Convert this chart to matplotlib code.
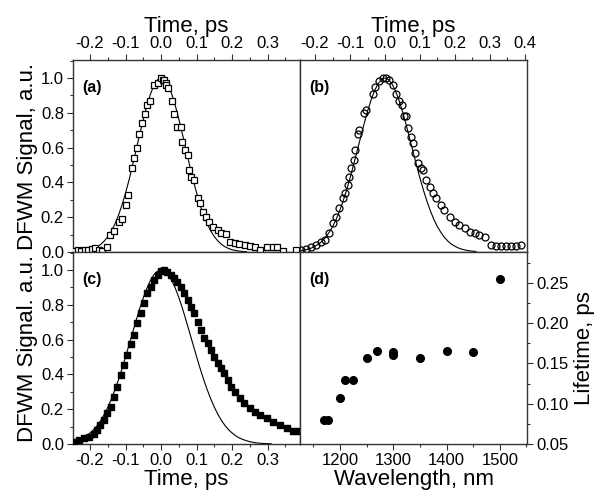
import matplotlib
matplotlib.use("Agg")
import matplotlib.pyplot as plt
from matplotlib.ticker import MultipleLocator, FormatStrFormatter

plt.rcParams['font.family'] = ['Liberation Sans', 'DejaVu Sans']

# ---------------- data ----------------
# panel (a): open squares
ta = [-0.245, -0.235, -0.225, -0.215, -0.205, -0.195, -0.185, -0.175, -0.165, -0.152, -0.143, -0.133,
      -0.119, -0.110, -0.100, -0.093, -0.083, -0.076, -0.067, -0.062, -0.055, -0.045, -0.039, -0.032,
      -0.020, -0.010, 0.000, 0.004, 0.007, 0.013, 0.015, 0.020, 0.030, 0.037, 0.046, 0.056, 0.060,
      0.068, 0.075, 0.079, 0.084, 0.093, 0.103, 0.110, 0.117, 0.127, 0.136, 0.145, 0.160, 0.169,
      0.183, 0.193, 0.207, 0.220, 0.235, 0.249, 0.263, 0.278, 0.297, 0.315, 0.325, 0.344, 0.380]
ya = [0.008, 0.010, 0.008, 0.012, 0.010, 0.015, 0.022, 0.012, 0.008, 0.030, 0.098, 0.120,
      0.174, 0.190, 0.270, 0.330, 0.485, 0.540, 0.600, 0.680, 0.740, 0.790, 0.845, 0.870,
      0.960, 0.970, 1.000, 0.990, 0.990, 0.970, 0.960, 0.940, 0.870, 0.790, 0.720, 0.720, 0.634,
      0.586, 0.557, 0.470, 0.433, 0.414, 0.308, 0.280, 0.232, 0.203, 0.174, 0.145, 0.126, 0.107,
      0.103, 0.060, 0.054, 0.046, 0.040, 0.034, 0.027, 0.011, 0.027, 0.030, 0.027, 0.008, 0.012]

# panel (b): open circles
tb = [-0.240, -0.226, -0.211, -0.197, -0.183, -0.171, -0.159, -0.148, -0.140, -0.131, -0.121, -0.113,
      -0.107, -0.102, -0.097, -0.090, -0.085, -0.078, -0.073, -0.059, -0.054, -0.035, -0.028, -0.016,
      -0.007, 0.003, 0.012, 0.022, 0.031, 0.041, 0.050, 0.054, 0.060, 0.066, 0.073, 0.080, 0.085,
      0.094, 0.102, 0.109, 0.118, 0.128, 0.137, 0.147, 0.159, 0.170, 0.185, 0.199, 0.213, 0.228,
      0.242, 0.256, 0.270, 0.285, 0.304, 0.318, 0.333, 0.347, 0.361, 0.375, 0.388]
yb = [0.010, 0.020, 0.030, 0.040, 0.060, 0.070, 0.107, 0.165, 0.203, 0.250, 0.310, 0.340,
      0.385, 0.430, 0.480, 0.530, 0.586, 0.680, 0.700, 0.800, 0.815, 0.910, 0.950, 0.980,
      1.000, 1.000, 0.990, 0.960, 0.910, 0.870, 0.845, 0.780, 0.780, 0.710, 0.660, 0.625, 0.567,
      0.510, 0.480, 0.470, 0.414, 0.375, 0.337, 0.308, 0.270, 0.241, 0.203, 0.174, 0.155, 0.136,
      0.117, 0.107, 0.098, 0.084, 0.040, 0.036, 0.036, 0.036, 0.036, 0.036, 0.040]

# panel (c): filled squares
tc = [-0.246, -0.232, -0.218, -0.204, -0.190, -0.180, -0.171, -0.161, -0.152, -0.142, -0.133, -0.124,
      -0.114, -0.105, -0.095, -0.086, -0.076, -0.067, -0.057, -0.048, -0.039, -0.029, -0.020, -0.010,
      -0.001, 0.008, 0.018, 0.027, 0.037, 0.046, 0.056, 0.065, 0.075, 0.084, 0.093, 0.103, 0.112,
      0.122, 0.131, 0.141, 0.150, 0.159, 0.169, 0.178, 0.188, 0.197, 0.207, 0.221, 0.234, 0.249,
      0.263, 0.277, 0.297, 0.315, 0.334, 0.353, 0.372, 0.386]
yc = [0.013, 0.023, 0.033, 0.042, 0.057, 0.080, 0.109, 0.138, 0.176, 0.214, 0.272, 0.330,
      0.397, 0.454, 0.511, 0.575, 0.626, 0.693, 0.751, 0.808, 0.866, 0.904, 0.943, 0.971,
      0.994, 1.000, 0.990, 0.971, 0.952, 0.933, 0.904, 0.866, 0.828, 0.789, 0.751, 0.703, 0.655,
      0.607, 0.579, 0.540, 0.502, 0.464, 0.435, 0.406, 0.368, 0.330, 0.301, 0.263, 0.234, 0.205,
      0.186, 0.167, 0.148, 0.128, 0.109, 0.090, 0.076, 0.076]

# fit curves
fit_t_a = [-0.22, -0.21, -0.20, -0.19, -0.18, -0.17, -0.16, -0.15, -0.14, -0.13, -0.12, -0.11, -0.10,
           -0.09, -0.08, -0.07, -0.06, -0.05, -0.04, -0.03, -0.02, -0.01, 0.00, 0.01, 0.02, 0.03,
           0.04, 0.05, 0.06, 0.07, 0.08, 0.09, 0.10, 0.11, 0.12, 0.13, 0.14, 0.15, 0.16, 0.17, 0.18,
           0.19, 0.20, 0.21, 0.22, 0.23, 0.24]
fit_y_a = [0.005, 0.009, 0.013, 0.020, 0.030, 0.044, 0.063, 0.088, 0.120, 0.161, 0.211, 0.270, 0.339,
           0.416, 0.501, 0.589, 0.678, 0.763, 0.841, 0.907, 0.958, 0.989, 1.000, 0.989, 0.958, 0.907,
           0.841, 0.763, 0.678, 0.589, 0.501, 0.416, 0.339, 0.270, 0.211, 0.161, 0.120, 0.088, 0.063,
           0.044, 0.030, 0.020, 0.013, 0.009, 0.005, 0.003, 0.002]

fit_t_b = [-0.24, -0.23, -0.22, -0.21, -0.20, -0.19, -0.18, -0.17, -0.16, -0.15, -0.14, -0.13, -0.12,
           -0.11, -0.10, -0.09, -0.08, -0.07, -0.06, -0.05, -0.04, -0.03, -0.02, -0.01, 0.00, 0.01,
           0.02, 0.03, 0.04, 0.05, 0.06, 0.07, 0.08, 0.09, 0.10, 0.11, 0.12, 0.13, 0.14, 0.15, 0.16,
           0.17, 0.18, 0.19, 0.20, 0.21, 0.22, 0.23, 0.24, 0.25, 0.26]
fit_y_b = [0.007, 0.011, 0.016, 0.023, 0.033, 0.045, 0.062, 0.084, 0.112, 0.145, 0.186, 0.235, 0.291,
           0.355, 0.424, 0.500, 0.578, 0.657, 0.735, 0.807, 0.872, 0.926, 0.966, 0.991, 1.000, 0.991,
           0.966, 0.926, 0.872, 0.807, 0.735, 0.657, 0.578, 0.500, 0.424, 0.355, 0.291, 0.235, 0.186,
           0.145, 0.112, 0.084, 0.062, 0.045, 0.033, 0.023, 0.016, 0.011, 0.007, 0.005, 0.003]

fit_t_c = [-0.25, -0.24, -0.23, -0.22, -0.21, -0.20, -0.19, -0.18, -0.17, -0.16, -0.15, -0.14, -0.13,
           -0.12, -0.11, -0.10, -0.09, -0.08, -0.07, -0.06, -0.05, -0.04, -0.03, -0.02, -0.01, 0.00,
           0.01, 0.02, 0.03, 0.04, 0.05, 0.06, 0.07, 0.08, 0.09, 0.10, 0.11, 0.12, 0.13, 0.14, 0.15,
           0.16, 0.17, 0.18, 0.19, 0.20, 0.21, 0.22, 0.23, 0.24, 0.25, 0.26, 0.27, 0.28, 0.29, 0.30, 0.31]
fit_y_c = [0.013, 0.019, 0.026, 0.035, 0.047, 0.063, 0.082, 0.106, 0.135, 0.170, 0.211, 0.258, 0.311,
           0.369, 0.433, 0.501, 0.571, 0.642, 0.712, 0.780, 0.841, 0.895, 0.940, 0.973, 0.993, 1.000,
           0.993, 0.973, 0.940, 0.895, 0.841, 0.780, 0.712, 0.642, 0.571, 0.501, 0.433, 0.369, 0.311,
           0.258, 0.211, 0.170, 0.135, 0.106, 0.082, 0.063, 0.047, 0.035, 0.026, 0.019, 0.013, 0.009,
           0.006, 0.004, 0.003, 0.002, 0.001]

# panel (d): lifetime vs wavelength
wavelength = [1170, 1178, 1200, 1210, 1225, 1250, 1270, 1300, 1300, 1350, 1400, 1450, 1500]
lifetime = [0.080, 0.080, 0.107, 0.130, 0.130, 0.157, 0.165, 0.161, 0.164, 0.157, 0.165, 0.164, 0.255]

time_ticks_a = [-0.2, -0.1, 0.0, 0.1, 0.2, 0.3]
time_ticks_b = [-0.2, -0.1, 0.0, 0.1, 0.2, 0.3, 0.4]
signal_ticks = [0.0, 0.2, 0.4, 0.6, 0.8, 1.0]
wl_ticks = [1200, 1300, 1400, 1500]
life_ticks = [0.05, 0.10, 0.15, 0.20, 0.25]

# ---------------- figure ----------------
W, H = 597, 496
fig = plt.figure(figsize=(W / 100, H / 100), dpi=100)

def frac(x0, y0, x1, y1):
    return [x0 / W, 1 - y1 / H, (x1 - x0) / W, (y1 - y0) / H]

axa = fig.add_axes(frac(73, 60, 300, 252))
axb = fig.add_axes(frac(300, 60, 527, 252))
axc = fig.add_axes(frac(73, 252, 300, 444))
axd = fig.add_axes(frac(300, 252, 527, 444))

spine_col = '#333333'
lab_fs = 16
tick_fs = 12
panel_fs = 11.5

for ax in (axa, axb, axc, axd):
    for s in ax.spines.values():
        s.set_color(spine_col)
        s.set_linewidth(1.0)
    ax.tick_params(which='both', direction='out', colors=spine_col, labelcolor='black',
                   labelsize=tick_fs, pad=2.5)
    ax.tick_params(which='major', length=4, width=0.8)
    ax.tick_params(which='minor', length=2.5, width=0.8)

ylim_sig = (0.0, 1.103)
xlim_ac = (-0.248, 0.391)
xlim_b = (-0.243, 0.406)

# (a)
axa.plot(fit_t_a, fit_y_a, color='black', lw=0.8, zorder=2)
axa.plot(ta, ya, ls='none', marker='s', ms=4.5, mfc='white', mec='black', mew=0.9, zorder=3)
axa.set_xlim(*xlim_ac)
axa.set_ylim(*ylim_sig)
axa.xaxis.tick_top()
axa.xaxis.set_label_position('top')
axa.set_xticks(time_ticks_a)
axa.xaxis.set_minor_locator(MultipleLocator(0.05))
axa.xaxis.set_major_formatter(FormatStrFormatter('%.1f'))
axa.set_yticks(signal_ticks)
axa.yaxis.set_minor_locator(MultipleLocator(0.1))
axa.yaxis.set_major_formatter(FormatStrFormatter('%.1f'))
axa.set_xlabel('Time, ps', fontsize=lab_fs, labelpad=3)
axa.set_ylabel('DFWM Signal, a.u.', fontsize=lab_fs, labelpad=2)
axa.text(0.04, 0.855, '(a)', transform=axa.transAxes, fontsize=panel_fs, fontweight='bold', va='center')

# (b)
axb.plot(fit_t_b, fit_y_b, color='black', lw=0.8, zorder=2)
axb.plot(tb, yb, ls='none', marker='o', ms=5, mfc='none', mec='black', mew=0.9, zorder=3)
axb.set_xlim(*xlim_b)
axb.set_ylim(*ylim_sig)
axb.xaxis.tick_top()
axb.xaxis.set_label_position('top')
axb.set_xticks(time_ticks_b)
axb.xaxis.set_minor_locator(MultipleLocator(0.05))
axb.xaxis.set_major_formatter(FormatStrFormatter('%.1f'))
axb.set_yticks([])
axb.set_xlabel('Time, ps', fontsize=lab_fs, labelpad=3)
axb.text(0.04, 0.855, '(b)', transform=axb.transAxes, fontsize=panel_fs, fontweight='bold', va='center')

# (c)
axc.plot(fit_t_c, fit_y_c, color='black', lw=0.8, zorder=2)
axc.plot(tc, yc, ls='none', marker='s', ms=4.2, mfc='black', mec='black', zorder=3)
axc.set_xlim(*xlim_ac)
axc.set_ylim(*ylim_sig)
axc.set_xticks(time_ticks_a)
axc.xaxis.set_minor_locator(MultipleLocator(0.05))
axc.xaxis.set_major_formatter(FormatStrFormatter('%.1f'))
axc.set_yticks(signal_ticks)
axc.yaxis.set_minor_locator(MultipleLocator(0.1))
axc.yaxis.set_major_formatter(FormatStrFormatter('%.1f'))
axc.set_xlabel('Time, ps', fontsize=lab_fs, labelpad=1)
axc.set_ylabel('DFWM Signal. a.u.', fontsize=lab_fs, labelpad=2)
axc.text(0.04, 0.855, '(c)', transform=axc.transAxes, fontsize=panel_fs, fontweight='bold', va='center')

# (d)
axd.plot(wavelength, lifetime, ls='none', marker='o', ms=5.5, mfc='black', mec='black', zorder=3)
axd.set_xlim(1125, 1551)
axd.set_ylim(0.05, 0.2885)
axd.set_xticks(wl_ticks)
axd.xaxis.set_minor_locator(MultipleLocator(50))
axd.yaxis.tick_right()
axd.yaxis.set_label_position('right')
axd.set_yticks(life_ticks)
axd.yaxis.set_minor_locator(MultipleLocator(0.025))
axd.yaxis.set_major_formatter(FormatStrFormatter('%.2f'))
axd.set_xlabel('Wavelength, nm', fontsize=lab_fs, labelpad=1)
axd.set_ylabel('Lifetime, ps', fontsize=lab_fs, labelpad=4)
axd.text(0.04, 0.855, '(d)', transform=axd.transAxes, fontsize=panel_fs, fontweight='bold', va='center')

fig.savefig('out.png', dpi=100)
